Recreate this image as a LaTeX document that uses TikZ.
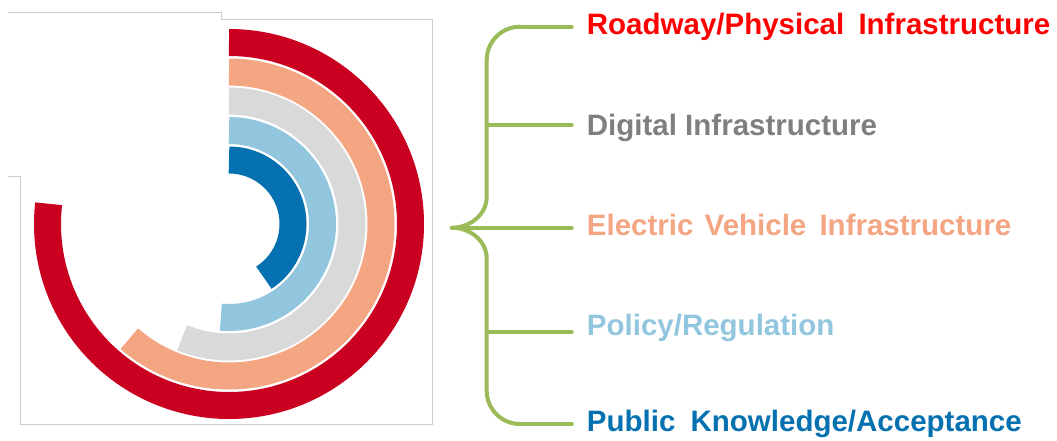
\documentclass[tikz,border=0pt]{standalone}
\usepackage{fontspec}
\setmainfont{Liberation Sans}
\definecolor{arcred}{HTML}{CA0020}
\definecolor{arcsalmon}{HTML}{F4A582}
\definecolor{arcgray}{HTML}{D9D9D9}
\definecolor{arclblue}{HTML}{92C5DE}
\definecolor{arcdblue}{HTML}{0571B0}
\definecolor{txtred}{HTML}{FF0000}
\definecolor{txtgray}{HTML}{7F7F7F}
\definecolor{framegray}{HTML}{CCCCCC}
\definecolor{bracegreen}{HTML}{9BBB59}
\begin{document}
\begin{tikzpicture}[x=1pt,y=1pt,
  ring/.style={line width=27pt, line cap=butt},
  frameline/.style={draw=framegray, line width=0.9pt},
  brace/.style={draw=bracegreen, line width=4pt, line cap=round, line join=round},
  label/.style={anchor=base west, inner sep=0pt, font=\bfseries\fontsize{29.5}{32}\selectfont},
  link/.style={brace, shorten >=15pt}]
\useasboundingbox (0,0) rectangle (1057,440);

% chart frame
\draw[frameline] (8,428) -- (221,428) -- (221,420.5) -- (432,420.5)
  -- (432,16) -- (20.7,16) -- (20.7,264) -- (8,264);

% concentric progress rings
\coordinate (c) at (229,216);
\draw[ring, arcred]    ([shift={(90:181.5)}]c) arc[start angle=90, end angle=-186.4, radius=181.5];
\draw[ring, arcsalmon] ([shift={(90:152)}]c)   arc[start angle=90, end angle=-131,   radius=152];
\draw[ring, arcgray]   ([shift={(90:123)}]c)   arc[start angle=90, end angle=-112.4, radius=123];
\draw[ring, arclblue]  ([shift={(90:93.5)}]c)  arc[start angle=90, end angle=-95,    radius=93.5];
\draw[ring, arcdblue]  ([shift={(90:64)}]c)    arc[start angle=90, end angle=-57,    radius=64];

% labels
\node[label, text=txtred]    (road)   at (586.7,405)   {Roadway/Physical\hspace{6pt} Infrastructure};
\node[label, text=txtgray]   (dig)    at (586.7,304.3) {Digital Infrastructure};
\node[label, text=arcsalmon] (ev)     at (586.7,204.3) {Electric\hspace{3pt} Vehicle\hspace{5pt} Infrastructure};
\node[label, text=arclblue]  (policy) at (586.7,104.3) {Policy/Regulation};
\node[label, text=arcdblue]  (public) at (586.7,8.3)   {Public\hspace{7pt} Knowledge/Acceptance};

% brace
\coordinate (tip) at (451.7,212.3);
\coordinate (t1) at (520,413.3);
\coordinate (t5) at (520,16);
\coordinate (s2) at (486.7,315);
\coordinate (s4) at (486.7,108.3);
\draw[brace] (t1) arc[start angle=90, end angle=180, radius=33.3]
  -- (486.7,243) .. controls (486.7,226) and (470.7,212.3) .. (tip)
  .. controls (470.7,212.3) and (486.7,198.6) .. (486.7,181.6)
  -- (486.7,49.3) arc[start angle=180, end angle=270, radius=33.3];
\draw[link] (t1) -- (t1 -| road.west);
\draw[link] (s2) -- (s2 -| dig.west);
\draw[link] (tip) -- (tip -| ev.west);
\draw[link] (s4) -- (s4 -| policy.west);
\draw[link] (t5) -- (t5 -| public.west);
\end{tikzpicture}
\end{document}
